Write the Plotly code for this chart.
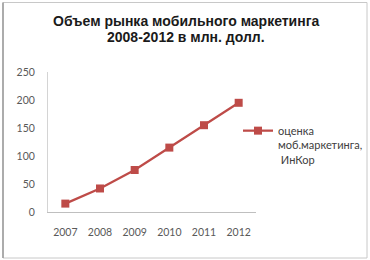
import plotly.graph_objects as go

years = ["2007", "2008", "2009", "2010", "2011", "2012"]
values = [15, 42, 75, 115, 155, 195]
series_name = "оценка<br>моб.маркетинга,<br> ИнКор"
title_lines = ["Объем рынка мобильного маркетинга", "2008-2012 в млн. долл."]
y_ticks = [0, 50, 100, 150, 200, 250]

RED = "#be4b48"

fig = go.Figure()
fig.add_trace(go.Scatter(
    x=years, y=values, mode="lines+markers", name=series_name,
    line=dict(color=RED, width=2.25),
    marker=dict(symbol="square", size=8, color=RED),
))

L, R, T, B = 48, 114, 72, 48
W, H = 370, 260
pw, ph = W - L - R, H - T - B

def px(x):
    return (x - L) / pw

def py(y):
    return (H - B - y) / ph

title_font = dict(family="Liberation Sans", size=14, color="#1a1a1a", weight="bold")

fig.update_layout(
    width=W, height=H,
    margin=dict(l=L, r=R, t=T, b=B, autoexpand=False),
    paper_bgcolor="white", plot_bgcolor="white",
    showlegend=True,
    legend=dict(x=px(238), xanchor="left", y=py(117), yanchor="top", valign="top",
                font=dict(family="Lato", size=11, color="#404040"),
                bgcolor="rgba(0,0,0,0)", tracegroupgap=0, itemwidth=30),
    xaxis=dict(type="category", range=[-0.5, 5.5], showline=True, linecolor="#bfbfbf", linewidth=1,
               showgrid=False, zeroline=False, ticks="", ticklabelstandoff=10,
               tickfont=dict(family="Lato", size=10.5, color="#595959")),
    yaxis=dict(range=[0, 250], tickvals=y_ticks, showline=True, linecolor="#d4d4d4", linewidth=1,
               showgrid=False, zeroline=False, ticks="", ticklabelstandoff=10,
               tickfont=dict(family="Lato", size=10.5, color="#595959")),
    annotations=[
        dict(text=title_lines[0], xref="paper", yref="paper", x=px(186), y=py(21.5),
             xanchor="center", yanchor="middle", showarrow=False, font=title_font),
        dict(text=title_lines[1], xref="paper", yref="paper", x=px(186), y=py(37),
             xanchor="center", yanchor="middle", showarrow=False, font=title_font),
    ],
    shapes=[
        dict(type="rect", xref="paper", yref="paper", x0=px(3), x1=px(367), y0=py(258), y1=py(2.5),
             line=dict(color="#c8c8c8", width=1), layer="below"),
        dict(type="line", xref="paper", yref="paper", x0=px(3), x1=px(3), y0=py(258), y1=py(2.5),
             line=dict(color="#9a9a9a", width=1.5)),
    ],
)

fig.write_html("out.html")
